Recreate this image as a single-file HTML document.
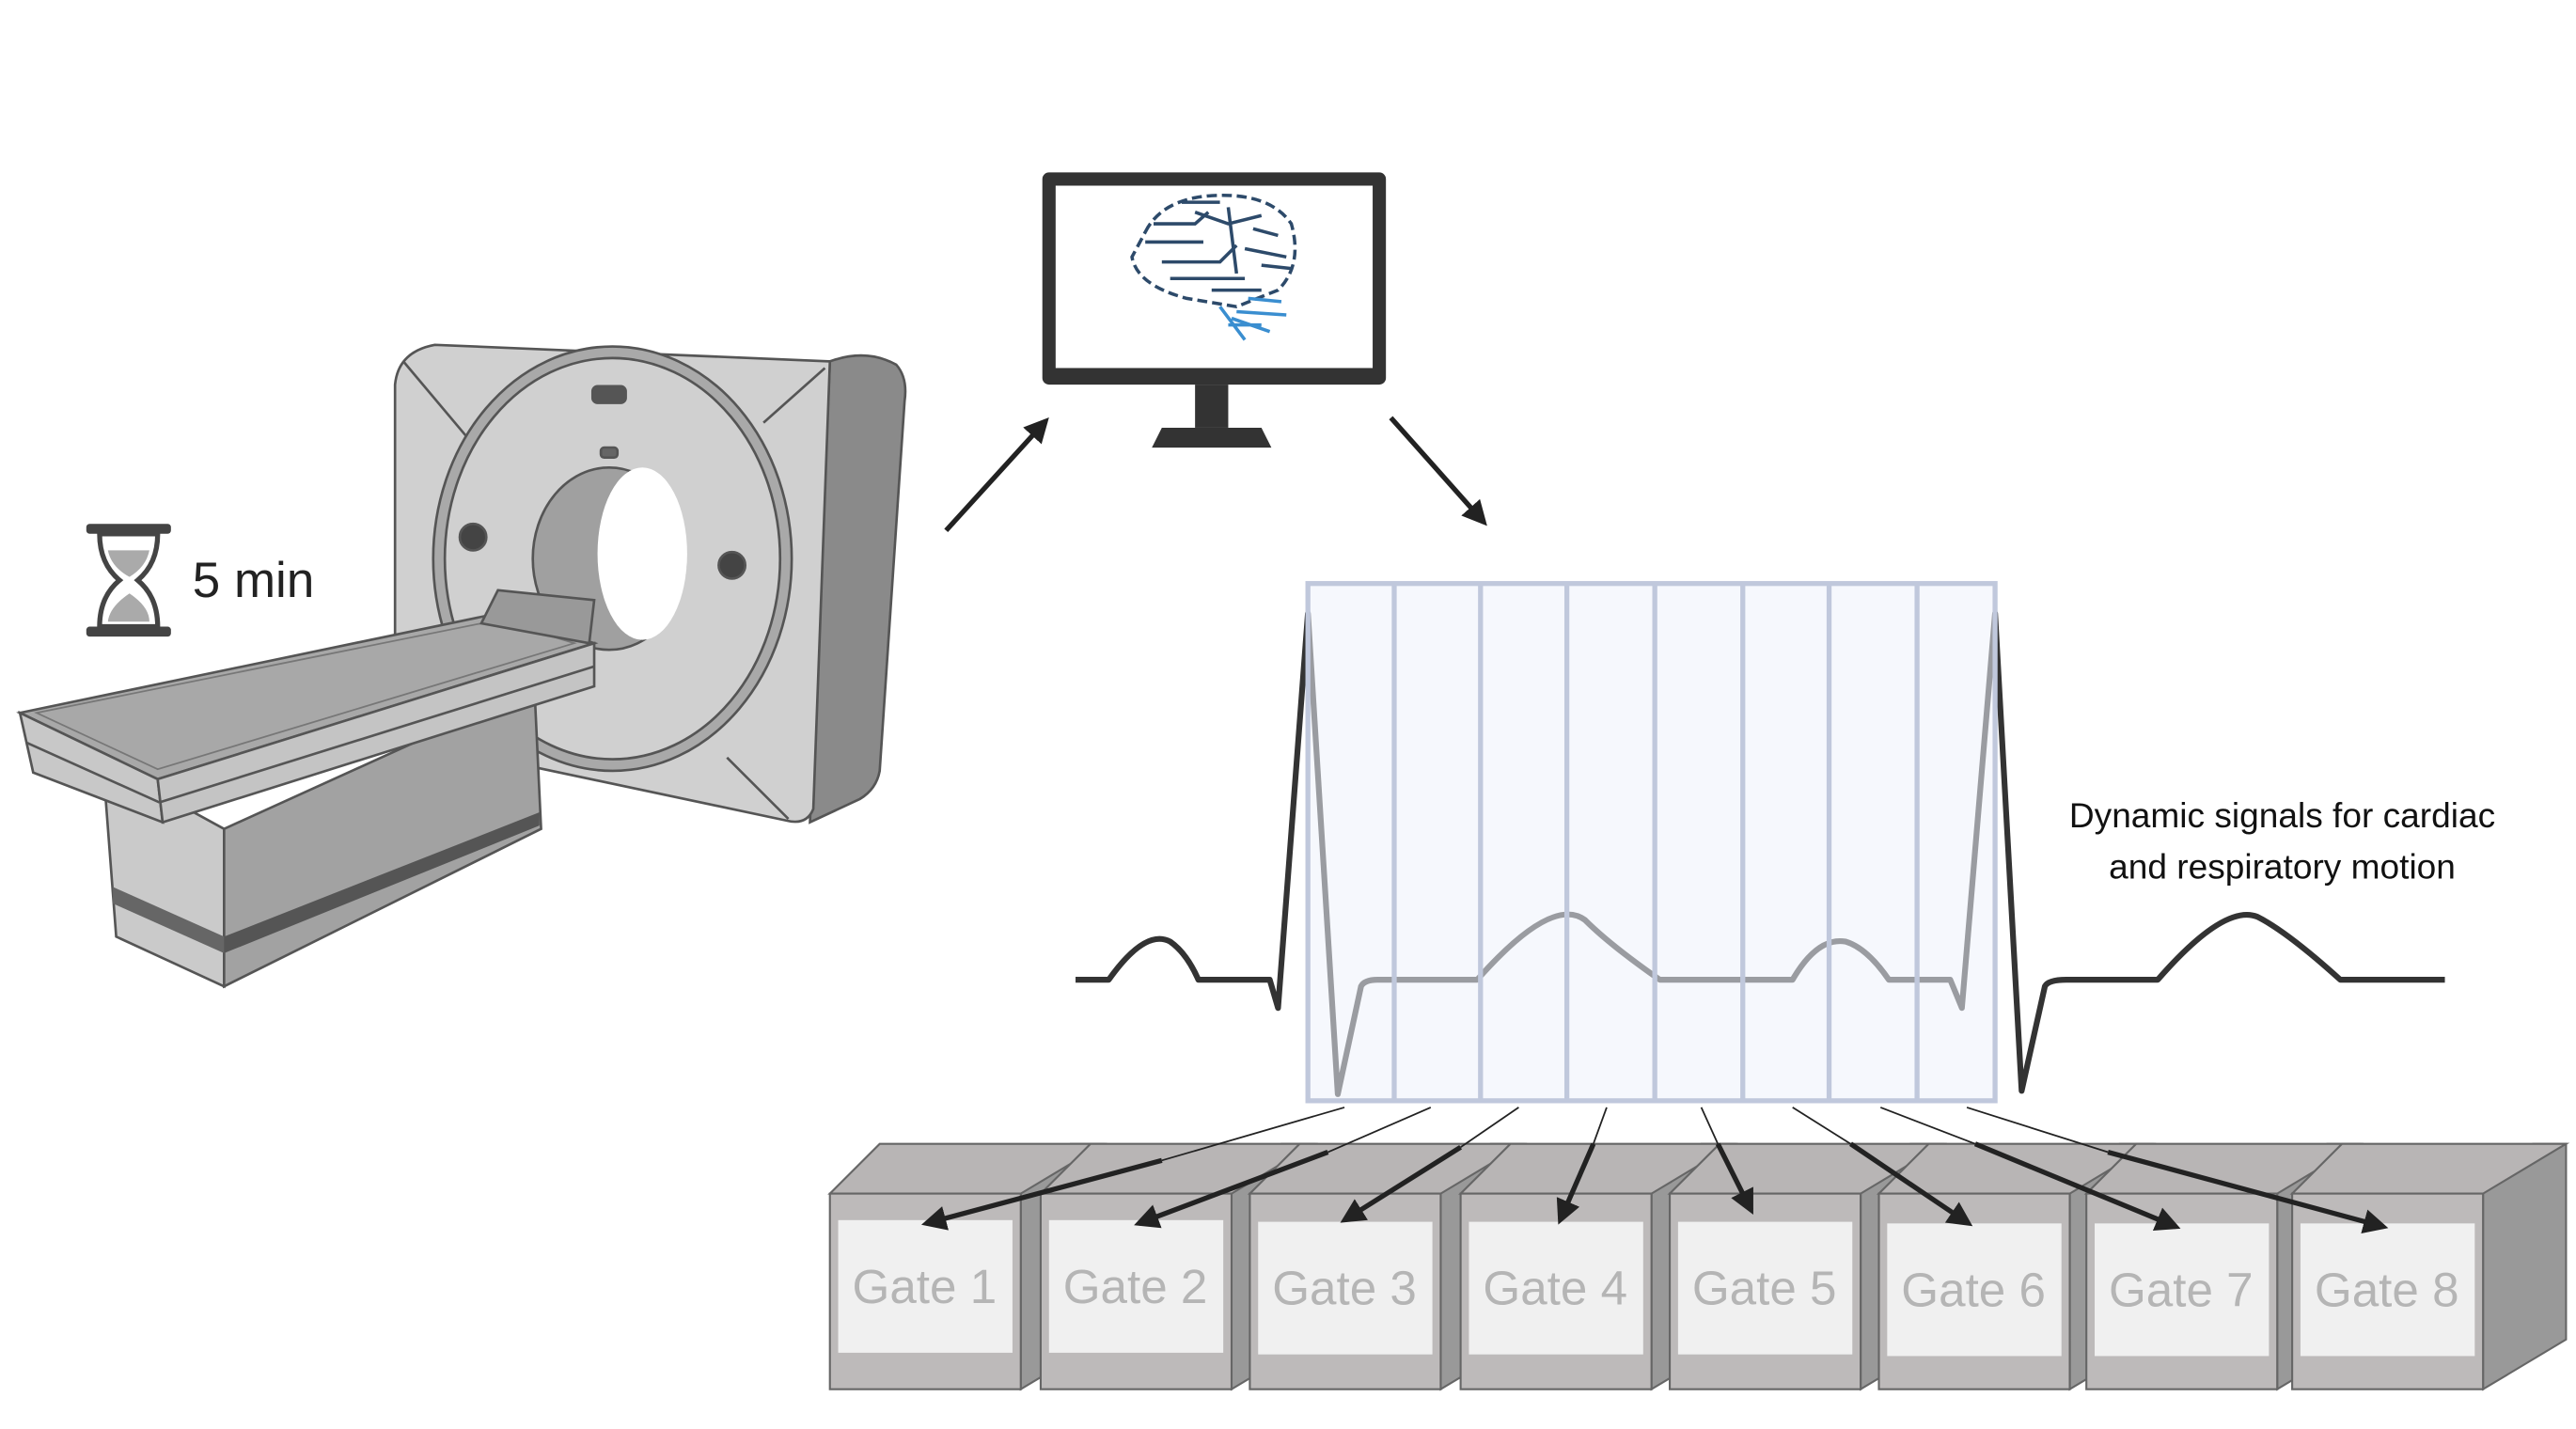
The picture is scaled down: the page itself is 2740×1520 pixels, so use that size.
<!DOCTYPE html>
<html><head><meta charset="utf-8"><style>
html,body{margin:0;padding:0;background:#fff;}
svg{display:block;}
text{font-family:"Liberation Sans",sans-serif;}
</style></head><body>
<svg width="2740" height="1520" viewBox="0 0 1552 862" preserveAspectRatio="none" xmlns="http://www.w3.org/2000/svg">
<defs>
<marker id="ah" viewBox="0 0 10 10" refX="8" refY="5" markerWidth="5" markerHeight="5" orient="auto"><path d="M0,0 L10,5 L0,10 Z" fill="#222"/></marker>
</defs>
<rect width="1552" height="862" fill="#fff"/>

<g stroke="#555" stroke-width="1.5">
  <path d="M500,218 Q522,210 540,220 Q547,228 545,242 L530,465 Q528,476 518,482 L488,496 Z" fill="#8a8a8a"/>
  <path d="M238,232 Q240,212 262,208 L500,218 L490,488 Q486,498 474,495 L238,445 Z" fill="#d0d0d0"/>
  <line x1="243" y1="218" x2="285" y2="268"/>
  <line x1="497" y1="222" x2="460" y2="255"/>
  <line x1="438" y1="457" x2="475" y2="494"/>
  <ellipse cx="369" cy="337" rx="108" ry="128" fill="#a9a9a9"/>
  <ellipse cx="369" cy="337" rx="101" ry="121" fill="#d0d0d0"/>
  <ellipse cx="367" cy="337" rx="46" ry="55" fill="#a0a0a0"/>
  <ellipse cx="387" cy="334" rx="27" ry="52" fill="#fff" stroke="none"/>
  <circle cx="285" cy="324" r="8" fill="#444"/>
  <circle cx="441" cy="341" r="8" fill="#444"/>
  <rect x="357" y="233" width="20" height="10" rx="3" fill="#555"/>
  <rect x="362" y="270" width="10" height="6" rx="2" fill="#666"/>
  <path d="M62,460 L135,500 L135,595 L70,565 Z" fill="#cacaca"/>
  <path d="M135,500 L322,415 L326,500 L135,595 Z" fill="#a2a2a2"/>
  <path d="M135,565 L325,490 L325,498 L135,575 Z" fill="#555" stroke="none"/>
  <path d="M68,535 L135,565 L135,575 L68,545 Z" fill="#666" stroke="none"/>
  <path d="M12,430 L300,370 L358,388 L95,470 Z" fill="#a8a8a8"/>
  <path d="M22,430 L300,374 L346,388 L95,464 Z" fill="none" stroke="#777" stroke-width="1"/>
  <path d="M290,376 L300,356 L358,362 L355,388 Z" fill="#999"/>
  <path d="M12,430 L95,470 L98,496 L20,466 Z" fill="#c8c8c8"/>
  <path d="M95,470 L358,388 L358,414 L98,496 Z" fill="#c4c4c4"/>
  <line x1="16" y1="448" x2="96" y2="484"/>
  <line x1="96" y1="484" x2="358" y2="402"/>
</g>

<g>
  <rect x="52" y="316" width="51" height="6" rx="2" fill="#444"/>
  <rect x="52" y="378" width="51" height="6" rx="2" fill="#444"/>
  <path d="M60,322 Q60,340 72,350 Q60,360 60,378 L95,378 Q95,360 83,350 Q95,340 95,322 Z" fill="#fff" stroke="#444" stroke-width="3"/>
  <path d="M65,332 L90,332 Q88,342 78,348 Q67,342 65,332 Z M78,358 Q90,366 90,375 L65,375 Q66,366 78,358 Z" fill="#aaa"/>
</g>
<text x="116" y="360" font-size="30" fill="#222">5 min</text>

<g stroke="#222" stroke-width="3" fill="none">
  <line x1="570" y1="320" x2="630" y2="254" marker-end="url(#ah)"/>
  <line x1="838" y1="252" x2="894" y2="315" marker-end="url(#ah)"/>
</g>

<g>
  <rect x="628" y="104" width="207" height="128" rx="4" fill="#333"/>
  <rect x="636" y="112" width="191" height="110" fill="#fff"/>
  <rect x="720" y="232" width="20" height="26" fill="#333"/>
  <path d="M694,270 L700,258 L760,258 L766,270 Z" fill="#333"/>
  <g fill="none" stroke-width="2">
    <path d="M690,140 Q700,120 730,118 Q765,116 778,135 Q785,160 770,175 L745,185 L715,180 Q685,172 682,155 Z" stroke="#2d4a6a" stroke-dasharray="6 3"/>
    <path d="M695,135 L720,135 L728,128 M690,146 L725,146 M700,158 L735,158 L745,148 M720,128 L740,135 L760,130 M705,168 L750,168 M750,150 L775,155 M740,125 L745,165 M755,138 L770,142 M712,122 L735,122 M730,175 L760,175 M760,160 L778,162" stroke="#2d4a6a"/>
    <path d="M735,185 L750,205 M745,188 L775,190 M752,180 L772,182 M760,196 L740,196 M742,192 L765,200" stroke="#3a8ed0"/>
  </g>
</g>

<g>
  <path d="M648,591 L668,591 Q690,560 705,568 Q715,575 722,591 L765,591 L770,608 L788,370 L806,660 L820,595 Q822,591 830,591 L890,591 Q935,540 955,555 Q970,570 1000,591 L1080,591 Q1095,565 1112,568 Q1125,572 1138,591 L1175,591 L1182,608 L1202,370 L1218,658 L1232,595 Q1234,591 1245,591 L1300,591 Q1340,545 1360,553 Q1378,562 1410,591 L1473,591" fill="none" stroke="#333" stroke-width="3.5" stroke-linejoin="round"/>
  <rect x="788" y="352" width="414" height="312" fill="rgba(238,242,252,0.55)" stroke="#c0c8dc" stroke-width="3"/>
  <g stroke="#c0c8dc" stroke-width="3">
    <line x1="840" y1="352" x2="840" y2="664"/><line x1="892" y1="352" x2="892" y2="664"/>
    <line x1="944" y1="352" x2="944" y2="664"/><line x1="997" y1="352" x2="997" y2="664"/>
    <line x1="1050" y1="352" x2="1050" y2="664"/><line x1="1102" y1="352" x2="1102" y2="664"/>
    <line x1="1155" y1="352" x2="1155" y2="664"/>
  </g>
</g>
<text x="1375" y="499" font-size="21" fill="#111" text-anchor="middle">Dynamic signals for cardiac</text>
<text x="1375" y="530" font-size="21" fill="#111" text-anchor="middle">and respiratory motion</text>

<g stroke="#666" stroke-width="1.2">
  <g><path d="M615,720 L645,690 L665,690 L665,808 L615,838 Z" fill="#999"/><path d="M500,720 L530,690 L665,690 L615,720 Z" fill="#b8b5b5"/><rect x="500" y="720" width="115" height="118" fill="#bdbaba"/><rect x="505" y="736" width="105" height="80" fill="#f0f0f0" stroke="none"/><text x="557" y="786" font-size="29" fill="#b5b5b5" text-anchor="middle" stroke="none">Gate 1</text></g>
  <g><path d="M742,720 L772,690 L792,690 L792,808 L742,838 Z" fill="#999"/><path d="M627,720 L657,690 L792,690 L742,720 Z" fill="#b8b5b5"/><rect x="627" y="720" width="115" height="118" fill="#bdbaba"/><rect x="632" y="736" width="105" height="80" fill="#f0f0f0" stroke="none"/><text x="684" y="786" font-size="29" fill="#b5b5b5" text-anchor="middle" stroke="none">Gate 2</text></g>
  <g><path d="M868,720 L898,690 L918,690 L918,808 L868,838 Z" fill="#999"/><path d="M753,720 L783,690 L918,690 L868,720 Z" fill="#b8b5b5"/><rect x="753" y="720" width="115" height="118" fill="#bdbaba"/><rect x="758" y="737" width="105" height="80" fill="#f0f0f0" stroke="none"/><text x="810" y="787" font-size="29" fill="#b5b5b5" text-anchor="middle" stroke="none">Gate 3</text></g>
  <g><path d="M995,720 L1025,690 L1045,690 L1045,808 L995,838 Z" fill="#999"/><path d="M880,720 L910,690 L1045,690 L995,720 Z" fill="#b8b5b5"/><rect x="880" y="720" width="115" height="118" fill="#bdbaba"/><rect x="885" y="737" width="105" height="80" fill="#f0f0f0" stroke="none"/><text x="937" y="787" font-size="29" fill="#b5b5b5" text-anchor="middle" stroke="none">Gate 4</text></g>
  <g><path d="M1121,720 L1151,690 L1171,690 L1171,808 L1121,838 Z" fill="#999"/><path d="M1006,720 L1036,690 L1171,690 L1121,720 Z" fill="#b8b5b5"/><rect x="1006" y="720" width="115" height="118" fill="#bdbaba"/><rect x="1011" y="737" width="105" height="80" fill="#f0f0f0" stroke="none"/><text x="1063" y="787" font-size="29" fill="#b5b5b5" text-anchor="middle" stroke="none">Gate 5</text></g>
  <g><path d="M1247,720 L1277,690 L1297,690 L1297,808 L1247,838 Z" fill="#999"/><path d="M1132,720 L1162,690 L1297,690 L1247,720 Z" fill="#b8b5b5"/><rect x="1132" y="720" width="115" height="118" fill="#bdbaba"/><rect x="1137" y="738" width="105" height="80" fill="#f0f0f0" stroke="none"/><text x="1189" y="788" font-size="29" fill="#b5b5b5" text-anchor="middle" stroke="none">Gate 6</text></g>
  <g><path d="M1372,720 L1402,690 L1422,690 L1422,808 L1372,838 Z" fill="#999"/><path d="M1257,720 L1287,690 L1422,690 L1372,720 Z" fill="#b8b5b5"/><rect x="1257" y="720" width="115" height="118" fill="#bdbaba"/><rect x="1262" y="738" width="105" height="80" fill="#f0f0f0" stroke="none"/><text x="1314" y="788" font-size="29" fill="#b5b5b5" text-anchor="middle" stroke="none">Gate 7</text></g>
  <g><path d="M1496,720 L1526,690 L1546,690 L1546,808 L1496,838 Z" fill="#999"/><path d="M1381,720 L1411,690 L1546,690 L1496,720 Z" fill="#b8b5b5"/><rect x="1381" y="720" width="115" height="118" fill="#bdbaba"/><rect x="1386" y="738" width="105" height="80" fill="#f0f0f0" stroke="none"/><text x="1438" y="788" font-size="29" fill="#b5b5b5" text-anchor="middle" stroke="none">Gate 8</text></g>
</g>

<g fill="none" stroke="#222">
  <path d="M810,668 L700,700" stroke-width="1" /><line x1="700" y1="700" x2="558" y2="738" stroke-width="3" marker-end="url(#ah)"/>
  <path d="M862,668 L800,695" stroke-width="1"/><line x1="800" y1="695" x2="686" y2="738" stroke-width="3" marker-end="url(#ah)"/>
  <path d="M915,668 L880,692" stroke-width="1"/><line x1="880" y1="692" x2="810" y2="736" stroke-width="3" marker-end="url(#ah)"/>
  <path d="M968,668 L960,690" stroke-width="1"/><line x1="960" y1="690" x2="940" y2="736" stroke-width="3" marker-end="url(#ah)"/>
  <path d="M1025,668 L1035,690" stroke-width="1"/><line x1="1035" y1="690" x2="1055" y2="730" stroke-width="3" marker-end="url(#ah)"/>
  <path d="M1080,668 L1115,690" stroke-width="1"/><line x1="1115" y1="690" x2="1186" y2="738" stroke-width="3" marker-end="url(#ah)"/>
  <path d="M1133,668 L1190,690" stroke-width="1"/><line x1="1190" y1="690" x2="1311" y2="740" stroke-width="3" marker-end="url(#ah)"/>
  <path d="M1185,668 L1270,695" stroke-width="1"/><line x1="1270" y1="695" x2="1436" y2="740" stroke-width="3" marker-end="url(#ah)"/>
</g>
</svg>
</body></html>
